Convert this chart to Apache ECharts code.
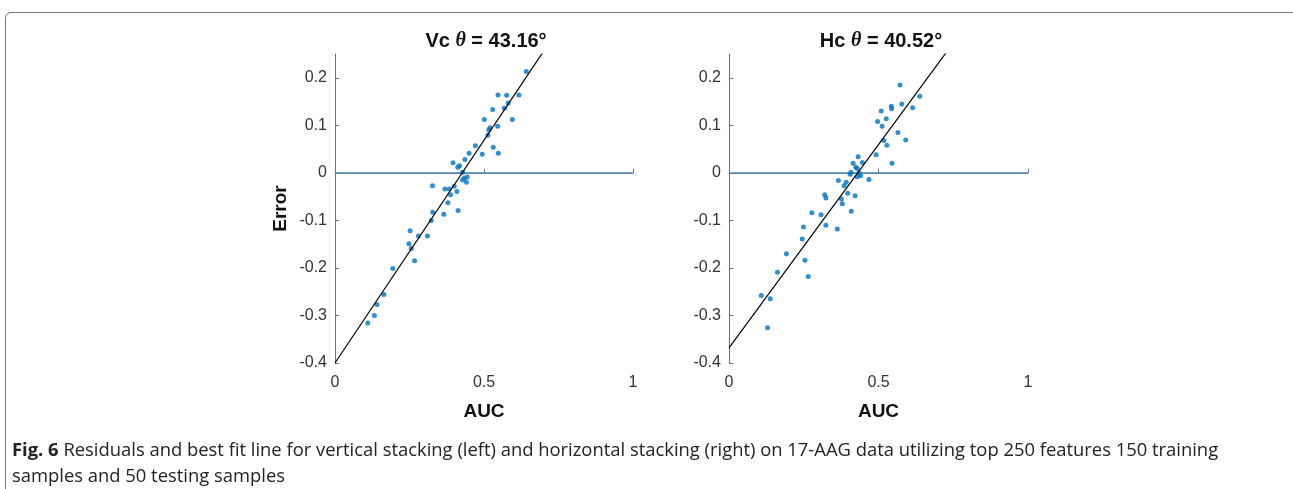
<!DOCTYPE html>
<html>
<head>
<meta charset="utf-8">
<script src="https://cdn.jsdelivr.net/npm/echarts@6/dist/echarts.min.js"></script>
<style>
  html, body { margin: 0; padding: 0; background: #fff; }
  #wrap { position: relative; width: 1293px; height: 489px; overflow: hidden; }
  #frame { position: absolute; left: 5px; top: 12px; width: 1320px; height: 520px; border: 1px solid #777; border-radius: 6px; box-sizing: border-box; }
  #chart { position: absolute; left: 0; top: 0; width: 1293px; height: 489px; }
  #caption { position: absolute; left: 12px; top: 436px; width: 1275px; white-space: nowrap; font-family: "Open Sans", sans-serif; font-size: 18.4px; line-height: 26px; color: #222; }
  #caption b { font-weight: 700; }
</style>
</head>
<body>
<div id="wrap">
  <div id="frame"></div>
  <div id="chart"></div>
  <div id="caption"><b>Fig. 6</b> Residuals and best fit line for vertical stacking (left) and horizontal stacking (right) on 17-AAG data utilizing top 250 features 150 training<br>samples and 50 testing samples</div>
</div>
<script>
// Left panel (Vc): [AUC, Error]
const vcPoints = [
  [0.642, 0.213], [0.547, 0.164], [0.576, 0.163], [0.617, 0.164], [0.581, 0.147],
  [0.568, 0.136], [0.529, 0.133], [0.501, 0.112], [0.595, 0.112], [0.520, 0.095],
  [0.516, 0.090], [0.546, 0.098], [0.513, 0.079], [0.471, 0.057], [0.531, 0.054],
  [0.450, 0.041], [0.494, 0.039], [0.548, 0.041], [0.436, 0.028], [0.396, 0.021],
  [0.418, 0.015], [0.412, 0.012], [0.428, 0.001], [0.444, -0.009], [0.434, -0.011],
  [0.428, -0.015], [0.441, -0.020], [0.327, -0.027], [0.369, -0.034], [0.384, -0.034],
  [0.400, -0.028], [0.409, -0.039], [0.388, -0.046], [0.379, -0.063], [0.413, -0.079],
  [0.328, -0.083], [0.365, -0.087], [0.323, -0.100], [0.252, -0.122], [0.280, -0.133],
  [0.310, -0.133], [0.248, -0.149], [0.256, -0.159], [0.267, -0.185], [0.194, -0.201],
  [0.164, -0.256], [0.141, -0.277], [0.132, -0.300], [0.110, -0.316]
];
// Right panel (Hc): [AUC, Error]
const hcPoints = [
  [0.572, 0.185], [0.638, 0.161], [0.578, 0.145], [0.543, 0.140], [0.544, 0.135],
  [0.614, 0.137], [0.509, 0.130], [0.526, 0.114], [0.497, 0.108], [0.512, 0.098],
  [0.565, 0.085], [0.518, 0.068], [0.591, 0.069], [0.528, 0.058], [0.492, 0.038],
  [0.432, 0.034], [0.415, 0.020], [0.446, 0.022], [0.545, 0.020], [0.424, 0.012],
  [0.429, 0.009], [0.408, 0.001], [0.405, -0.003], [0.435, 0.000], [0.429, -0.008],
  [0.440, -0.006], [0.468, -0.014], [0.366, -0.016], [0.392, -0.020], [0.385, -0.027],
  [0.397, -0.043], [0.320, -0.046], [0.324, -0.053], [0.376, -0.055], [0.379, -0.065],
  [0.422, -0.048], [0.409, -0.081], [0.277, -0.084], [0.308, -0.088], [0.249, -0.114],
  [0.324, -0.110], [0.362, -0.118], [0.245, -0.139], [0.192, -0.170], [0.254, -0.184],
  [0.162, -0.209], [0.265, -0.218], [0.108, -0.258], [0.138, -0.265], [0.129, -0.326]
];
// Best fit lines (endpoints at AUC 0 and 1)
const vcFit = [[0, -0.400], [1, 0.537]];
const hcFit = [[0, -0.368], [1, 0.487]];
const zeroLine = [[0, 0], [1, 0]];
const panelTitles = [['Vc ', '43.16°'], ['Hc ', '40.52°']];
const xTicks = [0, 0.5, 1];
const yTicks = [-0.4, -0.3, -0.2, -0.1, 0, 0.1, 0.2];

const chart = echarts.init(document.getElementById('chart'));
const axisColor = '#707070';
const labelColor = '#333';
const fontFam = '"Liberation Sans", Arial, Helvetica, sans-serif';

function xAx(idx) {
  return {
    gridIndex: idx, type: 'value', min: 0, max: 1,
    name: 'AUC', nameLocation: 'middle', nameGap: 39,
    nameTextStyle: { fontFamily: fontFam, fontWeight: 'bold', fontSize: 19, color: '#111' },
    axisLine: { show: true, lineStyle: { color: axisColor, width: 1 } },
    axisTick: { show: true, inside: true, length: 4, lineStyle: { color: axisColor }, customValues: xTicks },
    axisLabel: { customValues: xTicks, fontFamily: fontFam, fontSize: 16, color: labelColor, margin: 12,
      formatter: v => String(v) },
    splitLine: { show: false }
  };
}
function yAx(idx, withName) {
  return {
    gridIndex: idx, type: 'value', min: -0.4, max: 0.25,
    name: withName ? 'Error' : '', nameLocation: 'middle', nameGap: 45, nameRotate: 90,
    nameTextStyle: { fontFamily: fontFam, fontWeight: 'bold', fontSize: 19, color: '#111' },
    axisLine: { show: true, lineStyle: { color: axisColor, width: 1 } },
    axisTick: { show: true, inside: true, length: 4, lineStyle: { color: axisColor }, customValues: yTicks },
    axisLabel: { customValues: yTicks, fontFamily: fontFam, fontSize: 16, color: labelColor, margin: 8,
      formatter: v => (Math.abs(v) < 1e-9 ? '0' : String(Math.round(v * 10) / 10)) },
    splitLine: { show: false }
  };
}
function titleFor(i, centerX) {
  return {
    text: '{b|' + panelTitles[i][0] + '}{t|θ}{b| = ' + panelTitles[i][1] + '}',
    left: centerX, top: 26, textAlign: 'center',
    textStyle: {
      rich: {
        b: { fontFamily: fontFam, fontWeight: 'bold', fontSize: 20, color: '#111' },
        t: { fontFamily: '"Liberation Serif", "DejaVu Serif", serif', fontStyle: 'italic', fontSize: 20, color: '#111' }
      }
    }
  };
}

chart.setOption({
  animation: false,
  title: [titleFor(0, 481), titleFor(1, 876)],
  grid: [
    { left: 335, top: 54, width: 298, height: 309 },
    { left: 729, top: 54, width: 299, height: 309 }
  ],
  xAxis: [xAx(0), xAx(1)],
  yAxis: [yAx(0, true), yAx(1, false)],
  series: [
    { type: 'line', xAxisIndex: 0, yAxisIndex: 0, data: zeroLine, symbol: 'none', silent: true,
      lineStyle: { color: '#4a8cc8', width: 1.2 }, z: 1 },
    { type: 'line', xAxisIndex: 1, yAxisIndex: 1, data: zeroLine, symbol: 'none', silent: true,
      lineStyle: { color: '#4a8cc8', width: 1.2 }, z: 1 },
    { type: 'scatter', xAxisIndex: 0, yAxisIndex: 0, data: vcPoints, symbolSize: 5,
      itemStyle: { color: '#0072BD' }, z: 2 },
    { type: 'scatter', xAxisIndex: 1, yAxisIndex: 1, data: hcPoints, symbolSize: 5,
      itemStyle: { color: '#0072BD' }, z: 2 },
    { type: 'line', xAxisIndex: 0, yAxisIndex: 0, data: vcFit, symbol: 'none', clip: true, silent: true,
      lineStyle: { color: '#000', width: 1.2 }, z: 3 },
    { type: 'line', xAxisIndex: 1, yAxisIndex: 1, data: hcFit, symbol: 'none', clip: true, silent: true,
      lineStyle: { color: '#000', width: 1.2 }, z: 3 }
  ]
});
</script>
</body>
</html>
